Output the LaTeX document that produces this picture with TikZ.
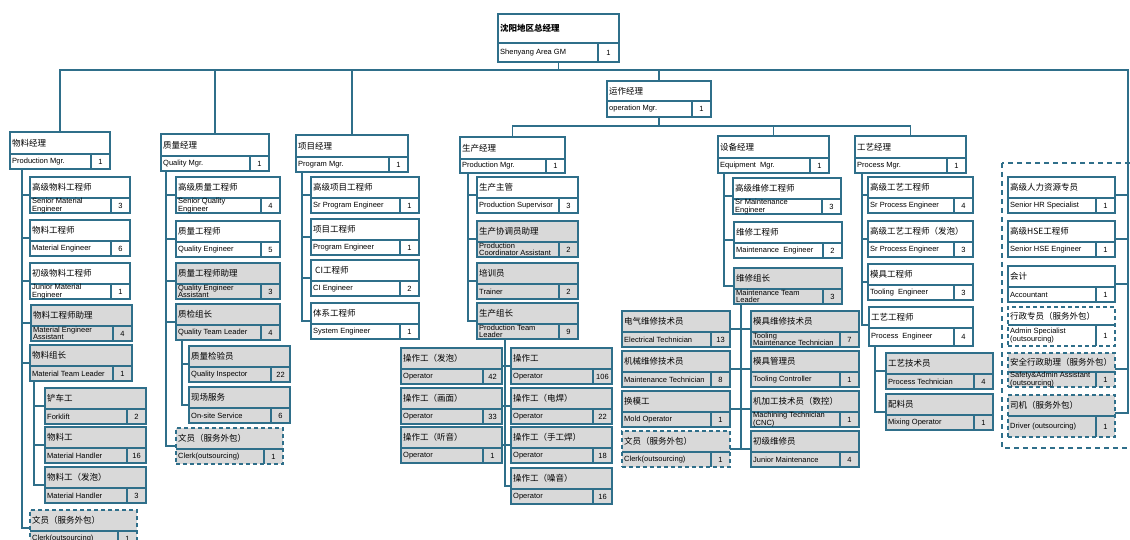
\documentclass[tikz,border=0pt]{standalone}
\usepackage{fontspec}
\setmainfont{Liberation Sans}
\newfontfamily\cjk{Noto Sans CJK SC}
\usetikzlibrary{calc}
\definecolor{orgline}{RGB}{47,111,138}
\definecolor{orggray}{RGB}{217,217,217}
\def\toprow{21}
\def\numw{19}
\tikzset{
  postbox/.style={draw=orgline, line width=1.3pt, fill=white, inner sep=0pt, outer sep=0pt, minimum height=36pt},
  graybox/.style={postbox, fill=orggray},
  outsbox/.style={postbox, dash pattern=on 4pt off 3pt},
  grayouts/.style={graybox, dash pattern=on 4pt off 3pt},
  divline/.style={draw=orgline, line width=1.3pt},
  link/.style={draw=orgline, line width=1.3pt},
  cntext/.style={font=\cjk\fontsize{8.5}{9}\selectfont, inner sep=0pt, anchor=west},
  entext/.style={font=\fontsize{7.5}{7.4}\selectfont, inner sep=0pt, anchor=west, align=left},
  numtext/.style={font=\fontsize{7.5}{8}\selectfont, inner sep=0pt},
}
% #1 style, #2 name, #3 top left, #4 width, #5 chinese title, #6 english title, #7 head count
\newcommand\post[7][postbox]{%
  \node[#1, minimum width=#4pt, anchor=north west] (#2) at (#3) {};
  \path (#2.north west) ++(0,\toprow) coordinate (#2-mid);
  \path (#2.north east) ++(0,\toprow) coordinate (#2-midr);
  \draw[divline] (#2-mid) -- (#2-midr);
  \draw[divline] ([xshift=-\numw pt]#2-midr) -- ([xshift=-\numw pt]#2.south east);
  \node[cntext] at ($(#2.north west)!.5!(#2-mid)+(2,0)$) {#5};
  \node[entext] at ($(#2-mid)!.5!(#2.south west)+(2,0)$) {#6};
  \node[numtext] at ($([xshift=-\numw pt]#2-midr)!.5!(#2.south east)$) {#7};
  \coordinate (#2-in) at ($(#2-mid)+(0,-3)$);
  \coordinate (#2-out) at ($(#2-midr)+(0,-3)$);
}

\begin{document}
\begin{tikzpicture}[x=1pt, y=-1pt]
  \useasboundingbox (0,0) rectangle (1130,540);
  \fill[white] (0,0) rectangle (1130,540);

  % outsourced support group
  \draw[orgline, line width=1.2pt, dash pattern=on 5pt off 4pt] (1002,163) rectangle (1150,448);

  %%%%% top %%%%%
  {\def\toprow{29}\def\numw{21}
  \post[postbox, minimum height=48pt]{gm}{498,14}{121}{\bfseries 沈阳地区总经理}{Shenyang Area GM}{1}}
  {\def\toprow{20}
  \post{op}{607,81}{104}{运作经理}{operation Mgr.}{1}}

  {\def\toprow{22}
  \post[postbox, minimum height=37pt]{wl}{10,132}{100}{物料经理}{Production Mgr.}{1}
  \post[postbox, minimum height=37pt]{zl}{161,134}{108}{质量经理}{Quality Mgr.}{1}
  \post[postbox, minimum height=37pt]{xm}{296,135}{112}{项目经理}{Program Mgr.}{1}
  \post[postbox, minimum height=36pt]{sc}{460,137}{105}{生产经理}{Production Mgr.}{1}
  \post[postbox, minimum height=37pt]{sb}{718,136}{111}{设备经理}{Equipment~ Mgr.}{1}
  \post[postbox, minimum height=37pt]{gy}{855,136}{111}{工艺经理}{Process Mgr.}{1}}

  %%%%% material %%%%%
  \post{wl1}{30,177}{100}{高级物料工程师}{Senior Material\\Engineer}{3}
  \post{wl2}{30,220}{100}{物料工程师}{Material Engineer}{6}
  \post{wl3}{30,263}{100}{初级物料工程师}{Junior Material\\Engineer}{1}
  \post[graybox]{wl4}{31,305}{101}{物料工程师助理}{Material Engineer\\Assistant}{4}
  \post[graybox]{wl5}{30,345}{102}{物料组长}{Material Team Leader}{1}
  \post[graybox]{wl5a}{45,388}{101}{铲车工}{Forklift}{2}
  \post[graybox]{wl5b}{45,427}{101}{物料工}{Material Handler}{16}
  \post[graybox]{wl5c}{45,467}{101}{物料工（发泡）}{Material Handler}{3}
  \post[grayouts]{wl6}{30,510}{107}{文员（服务外包）}{Clerk(outsourcing)}{1}

  %%%%% quality %%%%%
  \post{zl1}{176,177}{104}{高级质量工程师}{Senior Quality\\Engineer}{4}
  \post{zl2}{176,221}{104}{质量工程师}{Quality Engineer}{5}
  \post[graybox]{zl3}{176,263}{104}{质量工程师助理}{Quality Engineer\\Assistant}{3}
  \post[graybox]{zl4}{176,304}{104}{质检组长}{Quality Team Leader}{4}
  \post[graybox]{zl4a}{189,346}{101}{质量检验员}{Quality Inspector}{22}
  \post[graybox]{zl4b}{189,387}{101}{现场服务}{On-site Service}{6}
  \post[grayouts]{zl5}{176,428}{107}{文员（服务外包）}{Clerk(outsourcing)}{1}

  %%%%% program %%%%%
  \post{xm1}{311,177}{108}{高级项目工程师}{Sr Program Engineer}{1}
  \post{xm2}{311,219}{108}{项目工程师}{Program Engineer}{1}
  \post{xm3}{311,260}{108}{\ CI工程师}{CI Engineer}{2}
  \post{xm4}{311,303}{108}{体系工程师}{System Engineer}{1}

  %%%%% production %%%%%
  \post{sc1}{477,177}{101}{生产主管}{Production Supervisor}{3}
  \post[graybox]{sc2}{477,221}{101}{生产协调员助理}{Production\\Coordinator Assistant}{2}
  \post[graybox]{sc3}{477,263}{101}{培训员}{Trainer}{2}
  \post[graybox]{sc4}{477,303}{101}{生产组长}{Production Team\\Leader}{9}
  \post[graybox]{sc4a}{401,348}{101}{操作工（发泡）}{Operator}{42}
  \post[graybox]{sc4b}{401,388}{101}{操作工（画面）}{Operator}{33}
  \post[graybox]{sc4c}{401,427}{101}{操作工（听音）}{Operator}{1}
  \post[graybox]{sc4d}{511,348}{101}{操作工}{Operator}{106}
  \post[graybox]{sc4e}{511,388}{101}{操作工（电焊）}{Operator}{22}
  \post[graybox]{sc4f}{511,427}{101}{操作工（手工焊）}{Operator}{18}
  \post[graybox]{sc4g}{511,468}{101}{操作工（噪音）}{Operator}{16}

  %%%%% equipment %%%%%
  \post{sb1}{733,178}{108}{高级维修工程师}{Sr Maintenance\\Engineer}{3}
  \post{sb2}{734,222}{108}{维修工程师}{Maintenance~ Engineer}{2}
  \post[graybox]{sb3}{734,268}{108}{维修组长}{Maintenance Team\\Leader}{3}
  \post[graybox]{sb3a}{622,311}{108}{电气维修技术员}{Electrical Technician}{13}
  \post[graybox]{sb3b}{622,351}{108}{机械维修技术员}{Maintenance Technician}{8}
  \post[graybox]{sb3c}{622,391}{108}{换模工}{Mold Operator}{1}
  \post[grayouts]{sb3d}{622,431}{108}{文员（服务外包）}{Clerk(outsourcing)}{1}
  \post[graybox]{sb3e}{751,311}{108}{模具维修技术员}{Tooling\\Maintenance Technician}{7}
  \post[graybox]{sb3f}{751,351}{108}{模具管理员}{Tooling Controller}{1}
  \post[graybox]{sb3g}{751,391}{108}{机加工技术员（数控）}{Machining Technician\\(CNC)}{1}
  \post[graybox]{sb3h}{751,431}{108}{初级维修员}{Junior Maintenance}{4}

  %%%%% process %%%%%
  \post{gy1}{868,177}{105}{高级工艺工程师}{Sr Process Engineer}{4}
  \post{gy2}{868,221}{105}{高级工艺工程师（发泡）}{Sr Process Engineer}{3}
  \post{gy3}{868,264}{105}{模具工程师}{Tooling~ Engineer}{3}
  \post[postbox, minimum height=39pt]{gy4}{869,307}{104}{工艺工程师}{Process~ Engineer}{4}
  \post[graybox]{gy4a}{886,353}{107}{工艺技术员}{Process Technician}{4}
  \post[graybox]{gy4b}{886,394}{107}{配料员}{Mixing Operator}{1}

  %%%%% support %%%%%
  \post{hr1}{1008,177}{107}{高级人力资源专员}{Senior HR Specialist}{1}
  \post{hr2}{1008,221}{107}{高级HSE工程师}{Senior HSE Engineer}{1}
  \post{hr3}{1008,266}{107}{会计}{Accountant}{1}
  {\def\toprow{18}
  \post[outsbox, minimum height=39pt]{hr4}{1008,307}{107}{行政专员（服务外包）}{Admin Specialist\\(outsourcing)}{1}}
  {\def\toprow{19}
  \post[grayouts, minimum height=34pt]{hr5}{1008,353}{107}{安全行政助理（服务外包）}{Safety\&Admin Assistant\\(outsourcing)}{1}}
  \post[grayouts, minimum height=42pt]{hr6}{1008,395}{107}{司机（服务外包）}{Driver (outsourcing)}{1}

  %%%%% links %%%%%
  \coordinate (busR) at (1128,70);
  \coordinate (opbus) at (0,126);
  \draw[link] (gm.south) -- (gm.south |- busR);
  \draw[link] (wl.north) |- (busR) |- (hr6-out);
  \draw[link] (zl.north) -- (zl.north |- busR);
  \draw[link] (xm.north) -- (xm.north |- busR);
  \draw[link] (op.north) -- (op.north |- busR);
  \draw[link] (hr1-out) -- (hr1-out -| busR);
  \draw[link] (hr2-out) -- (hr2-out -| busR);
  \draw[link] (hr3-out) -- (hr3-out -| busR);
  \draw[link] (hr5-out) -- (hr5-out -| busR);

  \draw[link] (op.south) -- (op.south |- opbus);
  \draw[link] (sc.north) |- (opbus -| gy.north) -- (gy.north);
  \draw[link] (sb.north) -- (sb.north |- opbus);

  \draw[link] ([xshift=12pt]wl.south west) |- (wl6-in);
  \draw[link] ([xshift=12pt]wl.south west) |- (wl1-in);
  \draw[link] ([xshift=12pt]wl.south west) |- (wl2-in);
  \draw[link] ([xshift=12pt]wl.south west) |- (wl3-in);
  \draw[link] ([xshift=12pt]wl.south west) |- (wl4-in);
  \draw[link] ([xshift=12pt]wl.south west) |- (wl5-in);
  \draw[link] ([xshift=4pt]wl5.south west) |- (wl5a-in);
  \draw[link] ([xshift=4pt]wl5.south west) |- (wl5b-in);
  \draw[link] ([xshift=4pt]wl5.south west) |- (wl5c-in);

  \draw[link] ([xshift=5pt]zl.south west) |- (zl5-in);
  \draw[link] ([xshift=5pt]zl.south west) |- (zl1-in);
  \draw[link] ([xshift=5pt]zl.south west) |- (zl2-in);
  \draw[link] ([xshift=5pt]zl.south west) |- (zl3-in);
  \draw[link] ([xshift=5pt]zl.south west) |- (zl4-in);
  \draw[link] ([xshift=6pt]zl4.south west) |- (zl4a-in);
  \draw[link] ([xshift=6pt]zl4.south west) |- (zl4b-in);

  \draw[link] ([xshift=6pt]xm.south west) |- (xm1-in);
  \draw[link] ([xshift=6pt]xm.south west) |- (xm2-in);
  \draw[link] ([xshift=6pt]xm.south west) |- (xm3-in);
  \draw[link] ([xshift=6pt]xm.south west) |- (xm4-in);

  \draw[link] ([xshift=8pt]sc.south west) |- (sc1-in);
  \draw[link] ([xshift=8pt]sc.south west) |- (sc2-in);
  \draw[link] ([xshift=8pt]sc.south west) |- (sc3-in);
  \draw[link] ([xshift=8pt]sc.south west) |- (sc4-in);
  \draw[link] ([xshift=28pt]sc4.south west) |- (sc4g-in);
  \draw[link] ([xshift=28pt]sc4.south west) |- (sc4a-out);
  \draw[link] ([xshift=28pt]sc4.south west) |- (sc4b-out);
  \draw[link] ([xshift=28pt]sc4.south west) |- (sc4c-out);
  \draw[link] ([xshift=28pt]sc4.south west) |- (sc4d-in);
  \draw[link] ([xshift=28pt]sc4.south west) |- (sc4e-in);
  \draw[link] ([xshift=28pt]sc4.south west) |- (sc4f-in);

  \draw[link] ([xshift=6pt]sb.south west) |- (sb1-in);
  \draw[link] ([xshift=6pt]sb.south west) |- (sb2-in);
  \draw[link] ([xshift=6pt]sb.south west) |- (sb3-in);
  \draw[link] ([xshift=7pt]sb3.south west) |- (sb3d-out);
  \draw[link] ([xshift=7pt]sb3.south west) |- (sb3a-out);
  \draw[link] ([xshift=7pt]sb3.south west) |- (sb3b-out);
  \draw[link] ([xshift=7pt]sb3.south west) |- (sb3c-out);
  \draw[link] ([xshift=7pt]sb3.south west) |- (sb3e-in);
  \draw[link] ([xshift=7pt]sb3.south west) |- (sb3f-in);
  \draw[link] ([xshift=7pt]sb3.south west) |- (sb3g-in);
  \draw[link] ([xshift=7pt]sb3.south west) |- (sb3h-in);

  \draw[link] ([xshift=7pt]gy.south west) |- (gy1-in);
  \draw[link] ([xshift=7pt]gy.south west) |- (gy2-in);
  \draw[link] ([xshift=7pt]gy.south west) |- (gy3-in);
  \draw[link] ([xshift=7pt]gy.south west) |- (gy4-in);
  \draw[link] ([xshift=6pt]gy4.south west) |- (gy4a-in);
  \draw[link] ([xshift=6pt]gy4.south west) |- (gy4b-in);
\end{tikzpicture}
\end{document}
